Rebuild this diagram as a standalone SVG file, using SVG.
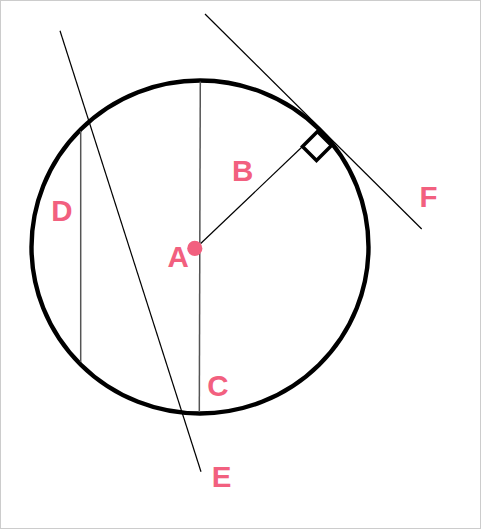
<svg xmlns="http://www.w3.org/2000/svg" width="481" height="529" viewBox="0 0 481 529">
<style>
.lbl{font-family:"Liberation Sans",Arial,sans-serif;font-weight:bold;font-size:29.5px;fill:#f2607f}
.thin{stroke:#000;stroke-width:1.2;fill:none}
.gray{stroke:#555;stroke-width:1.5;fill:none}
</style>
<rect x="0.5" y="0.5" width="480" height="528" fill="#fff" stroke="#ccc" stroke-width="1"/>
<g id="circle">
<ellipse cx="200" cy="247" rx="168.5" ry="166.5" fill="none" stroke="#000" stroke-width="4.4"/>
</g>
<g id="connectors">
<line class="gray" x1="200.3" y1="81.5" x2="199.3" y2="412"/>
<line class="gray" x1="80.7" y1="131" x2="80.7" y2="362"/>
<line class="thin" x1="60" y1="30.7" x2="201" y2="471.7"/>
<line class="thin" x1="205" y1="14" x2="421.7" y2="229"/>
<line class="thin" x1="200.7" y1="243.5" x2="302.5" y2="146.5"/>
<polygon points="302.5,146.5 317.5,131.5 331.5,145.5 316.5,160.5" fill="none" stroke="#000" stroke-width="3.5"/>
</g>
<g id="A">
<circle cx="194.8" cy="248.4" r="7.6" fill="#f2607f"/>
<text class="lbl" x="167.5" y="267">A</text>
</g>
<g id="B"><text class="lbl" x="232" y="180.6">B</text></g>
<g id="C"><text class="lbl" x="207.3" y="395.5">C</text></g>
<g id="D"><text class="lbl" x="51.2" y="220.6">D</text></g>
<g id="E"><text class="lbl" x="211.8" y="486.6">E</text></g>
<g id="F"><text class="lbl" x="419.5" y="207">F</text></g>
</svg>
